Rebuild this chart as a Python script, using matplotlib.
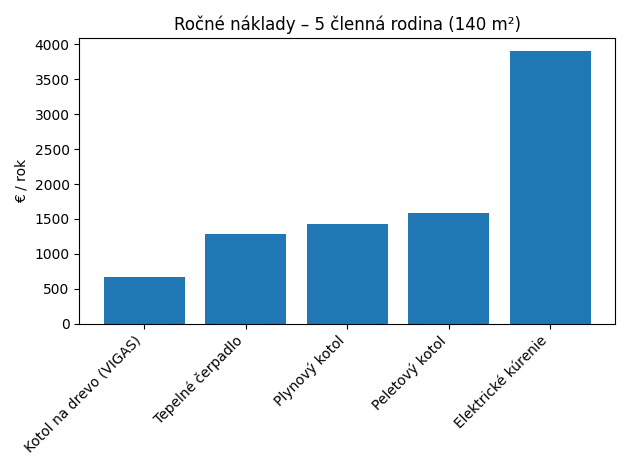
import matplotlib
matplotlib.use("Agg")
import matplotlib.pyplot as plt

categories = ["Kotol na drevo (VIGAS)", "Tepelné čerpadlo", "Plynový kotol", "Peletový kotol", "Elektrické kúrenie"]
values = [670, 1290, 1430, 1580, 3900]

fig, ax = plt.subplots(figsize=(6.3, 4.7), dpi=100)
ax.bar(categories, values, color="#1f77b4")
ax.set_title("Ročné náklady – 5 členná rodina (140 m²)")
ax.set_ylabel("€ / rok")
plt.setp(ax.get_xticklabels(), rotation=45, ha="right")
fig.tight_layout()
fig.savefig("out.png")
